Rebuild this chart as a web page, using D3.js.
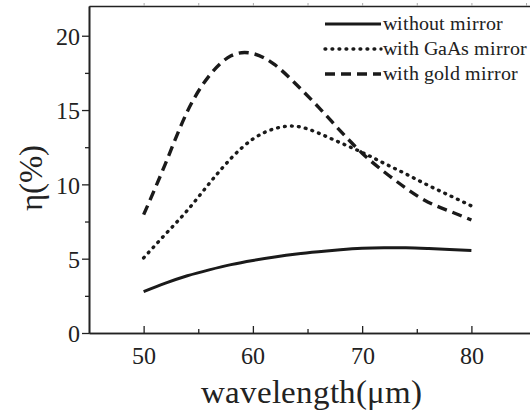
<!DOCTYPE html>
<html><head><meta charset="utf-8">
<script src="https://cdn.jsdelivr.net/npm/d3@7"></script>
<style>
@font-face{font-family:"ChartSerif";src:local("Liberation Serif"),local("LiberationSerif"),local("LiberationSerif-Regular"),local("Tinos"),local("Times New Roman");}
body{margin:0;background:#fff}
svg{display:block;font-family:"ChartSerif","Liberation Serif",serif}
svg text{font-family:"ChartSerif","Liberation Serif",serif !important}
</style>
</head><body><svg id="c" width="530" height="419"></svg>
<script>
const wavelengths = [50,52,54,56,58,60,62,64,66,68,70,72,74,76,78,80];
const withoutMirror = [2.78,3.35,3.85,4.25,4.6,4.88,5.12,5.32,5.47,5.6,5.7,5.74,5.73,5.68,5.62,5.55];
const gaasMirror = [5.05,6.65,8.25,10.05,11.75,13.05,13.75,13.9,13.45,12.8,12.15,11.42,10.7,9.95,9.25,8.55];
const goldMirror = [7.96,11.4,14.9,17.3,18.65,18.8,18.05,16.7,15.2,13.6,12.1,10.85,9.75,8.82,8.2,7.6];
const seriesNames = ["without mirror","with GaAs mirror","with gold mirror"];
const xTicks = [50,60,70,80];
const yTicks = [0,5,10,15,20];

const FONT = "ChartSerif, 'Liberation Serif', serif";
const svg = d3.select("#c");
const x = d3.scaleLinear().domain([45,85.5]).range([89,531.5]);
const y = d3.scaleLinear().domain([0,22]).range([333,6]);

const styles = [
  {w:3, dash:null, cap:"butt"},
  {w:3.4, dash:"0.8 6.2", cap:"round"},
  {w:3.4, dash:"10 6", cap:"butt"}
];
const data = [withoutMirror, gaasMirror, goldMirror];

const line = d3.line().x((d,i)=>x(wavelengths[i])).y(d=>y(d)).curve(d3.curveNatural);
data.forEach((s,k)=>{
  const p = svg.append("path").datum(s).attr("d",line).attr("fill","none")
    .attr("stroke","#1a1a1a").attr("stroke-width",styles[k].w).attr("stroke-linecap",styles[k].cap);
  if(styles[k].dash) p.attr("stroke-dasharray",styles[k].dash);
});

const gx = svg.append("g").attr("transform","translate(0,333)")
  .call(d3.axisBottom(x).tickValues(xTicks).tickSizeInner(-7).tickSizeOuter(0).tickPadding(14).tickFormat(d3.format("d")));
const gxm = svg.append("g").attr("transform","translate(0,333)")
  .call(d3.axisBottom(x).tickValues([55,65,75]).tickSizeInner(-4).tickSizeOuter(0).tickFormat(""));
const gy = svg.append("g").attr("transform","translate(89,0)")
  .call(d3.axisLeft(y).tickValues(yTicks).tickSizeInner(7).tickSizeOuter(0).tickPadding(2).tickFormat(d3.format("d")));
const gym = svg.append("g").attr("transform","translate(89,0)")
  .call(d3.axisLeft(y).tickValues([2.5,7.5,12.5,17.5]).tickSizeInner(4).tickSizeOuter(0).tickFormat(""));
const gt = svg.append("g").attr("transform","translate(0,6)")
  .call(d3.axisTop(x).tickValues([50,55,60,65,70,75,80,85]).tickSizeInner(3).tickSizeOuter(0).tickFormat(""));
[gx,gxm,gy,gym,gt].forEach(g=>{
  g.attr("font-family",null);
  g.select(".domain").attr("stroke","#222").attr("stroke-width",1.6);
  g.selectAll(".tick line").attr("stroke","#222").attr("stroke-width",1.3);
});
gt.selectAll(".tick line").attr("stroke","#aaa").attr("stroke-width",1);
gx.selectAll("text").style("font-size","24px").attr("fill","#222").attr("dy","0.72em");
gy.selectAll("text").style("font-size","24px").attr("fill","#222").attr("dy","0.36em");

svg.append("text").attr("x",311).attr("y",403).attr("text-anchor","middle")
  .style("font-size","33px").attr("fill","#222").text("wavelength(μm)");
svg.append("text").attr("transform","translate(42,178) rotate(-90)").attr("text-anchor","middle")
  .style("font-size","33px").attr("fill","#222").text("η(%)");

const lg = svg.append("g");
seriesNames.forEach((n,k)=>{
  const ly = 24 + k*25;
  const l = lg.append("line").attr("x1",325).attr("x2",381).attr("y1",ly).attr("y2",ly)
    .attr("stroke","#1a1a1a").attr("stroke-width",styles[k].w).attr("stroke-linecap",styles[k].cap);
  if(styles[k].dash) l.attr("stroke-dasharray",styles[k].dash);
  lg.append("text").attr("x",383).attr("y",ly+6).style("font-size","19.5px")
    .attr("fill","#222").text(n);
});
</script></body></html>
